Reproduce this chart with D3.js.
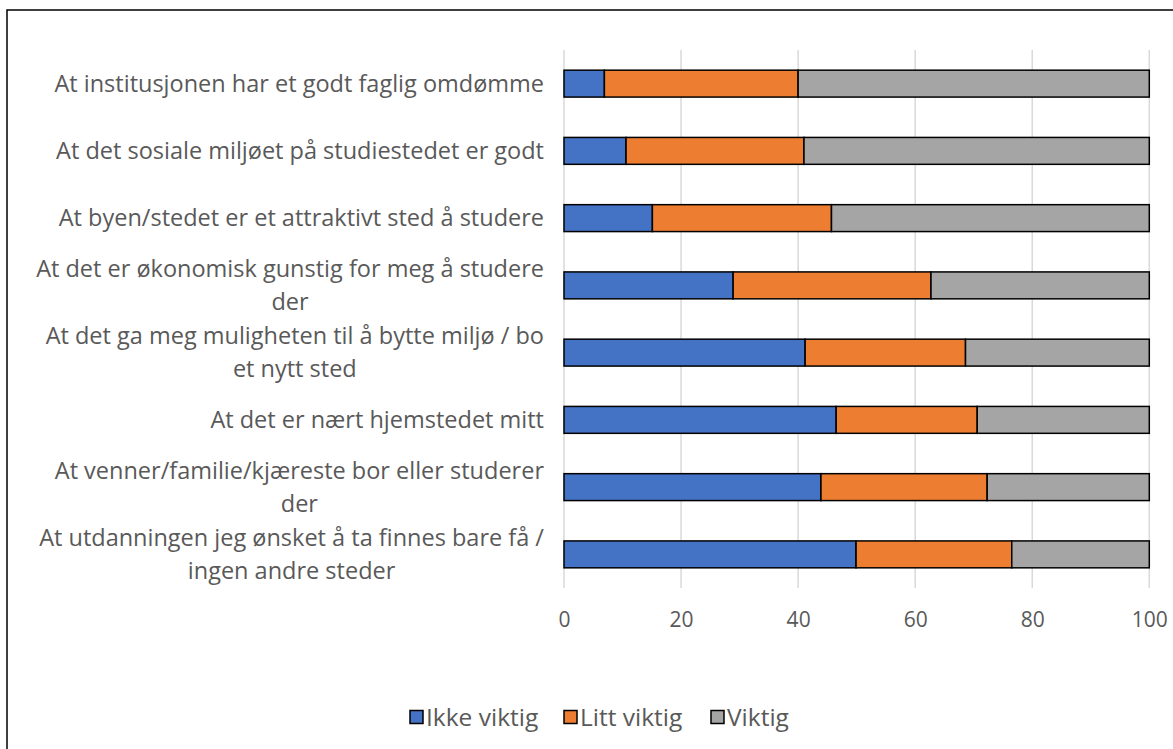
<!DOCTYPE html>
<html><head><meta charset="utf-8">
<script src="https://cdn.jsdelivr.net/npm/d3@7"></script>
<style>body{margin:0;background:#fff}svg{display:block}text{font-family:"Open Sans",sans-serif}</style>
</head><body>
<svg id="chart" width="1173" height="749"></svg>
<script>
const categories = [
  ["At institusjonen har et godt faglig omdømme"],
  ["At det sosiale miljøet på studiestedet er godt"],
  ["At byen/stedet er et attraktivt sted å studere"],
  ["At det er økonomisk gunstig for meg å studere", "der"],
  ["At det ga meg muligheten til å bytte miljø / bo", "et nytt sted"],
  ["At det er nært hjemstedet mitt"],
  ["At venner/familie/kjæreste bor eller studerer", "der"],
  ["At utdanningen jeg ønsket å ta finnes bare få /", "ingen andre steder"]
];
const seriesNames = ["Ikke viktig", "Litt viktig", "Viktig"];
const ikkeViktig = [6.9, 10.6, 15.1, 28.9, 41.2, 46.5, 43.9, 49.9];
const littViktig = [33.1, 30.4, 30.6, 33.8, 27.4, 24.1, 28.4, 26.6];
const viktig     = [60.0, 59.0, 54.3, 37.3, 31.4, 29.4, 27.7, 23.5];
const xTicks = [0, 20, 40, 60, 80, 100];
const colors = ["#4472C4", "#ED7D31", "#A5A5A5"];

(function () {
const svg = d3.select("#chart");
const W = 1173, H = 749;
const pLeft = 564, pRight = 1149.3, pTop = 50, pBottom = 588;
const FONT = 23.5, LFONT = 24.5;

// outer frame
svg.append("rect").attr("x", 7).attr("y", 10).attr("width", W + 10).attr("height", H + 10)
  .attr("fill", "none").attr("stroke", "#000").attr("stroke-width", 1.5);

const x = d3.scaleLinear().domain([0, 100]).range([pLeft, pRight]);
const idx = d3.range(categories.length);
const y = d3.scaleBand().domain(idx).range([pTop, pBottom]).paddingInner(0.6).paddingOuter(0.3);

// gridlines
svg.append("g").selectAll("line").data(xTicks).join("line")
  .attr("x1", d => x(d)).attr("x2", d => x(d))
  .attr("y1", pTop).attr("y2", pBottom)
  .attr("stroke", "#D9D9D9").attr("stroke-width", 1.5);

// stacked data
const rows = idx.map(i => ({i, "Ikke viktig": ikkeViktig[i], "Litt viktig": littViktig[i], "Viktig": viktig[i]}));
const stack = d3.stack().keys(seriesNames)(rows);

const gBars = svg.append("g");
stack.forEach((s, k) => {
  gBars.append("g").selectAll("rect").data(s).join("rect")
    .attr("x", d => x(d[0]))
    .attr("width", d => x(d[1]) - x(d[0]))
    .attr("y", d => y(d.data.i))
    .attr("height", y.bandwidth())
    .attr("fill", colors[k])
    .attr("stroke", "#000").attr("stroke-width", 1.5);
});

// x axis labels
const xAxis = d3.axisBottom(x).tickValues(xTicks).tickSize(0).tickPadding(0);
const gx = svg.append("g").attr("transform", `translate(0,${pBottom + 32})`).call(xAxis);
gx.select(".domain").remove();
gx.selectAll("text").attr("fill", "#595959").attr("font-size", 21).attr("dy", "0.35em")
  .style("font-family", "'Open Sans',sans-serif");

// category labels
const labelRight = 544;
const lineH = 33;
const gy = svg.append("g");
categories.forEach((lines, i) => {
  const cy = y(i) + y.bandwidth() / 2;
  const g = gy.append("g");
  const texts = lines.map((ln, j) => g.append("text")
    .attr("y", cy + (j - (lines.length - 1) / 2) * lineH)
    .attr("dy", "0.35em")
    .attr("text-anchor", "middle")
    .attr("fill", "#595959").attr("font-size", FONT)
    .text(ln));
  const maxW = d3.max(texts, t => t.node().getComputedTextLength());
  texts.forEach(t => t.attr("x", labelRight - maxW / 2));
});

// legend
const legendY = 717;
const legend = svg.append("g");
const itemX = [410, 564, 711];
seriesNames.forEach((name, k) => {
  legend.append("rect").attr("x", itemX[k]).attr("y", legendY - 6.5).attr("width", 13).attr("height", 13)
    .attr("fill", colors[k]).attr("stroke", "#000").attr("stroke-width", 1.5);
  legend.append("text").attr("x", itemX[k] + 16).attr("y", legendY).attr("dy", "0.35em")
    .attr("fill", "#595959").attr("font-size", LFONT).text(name);
});
})();
</script>
</body></html>
